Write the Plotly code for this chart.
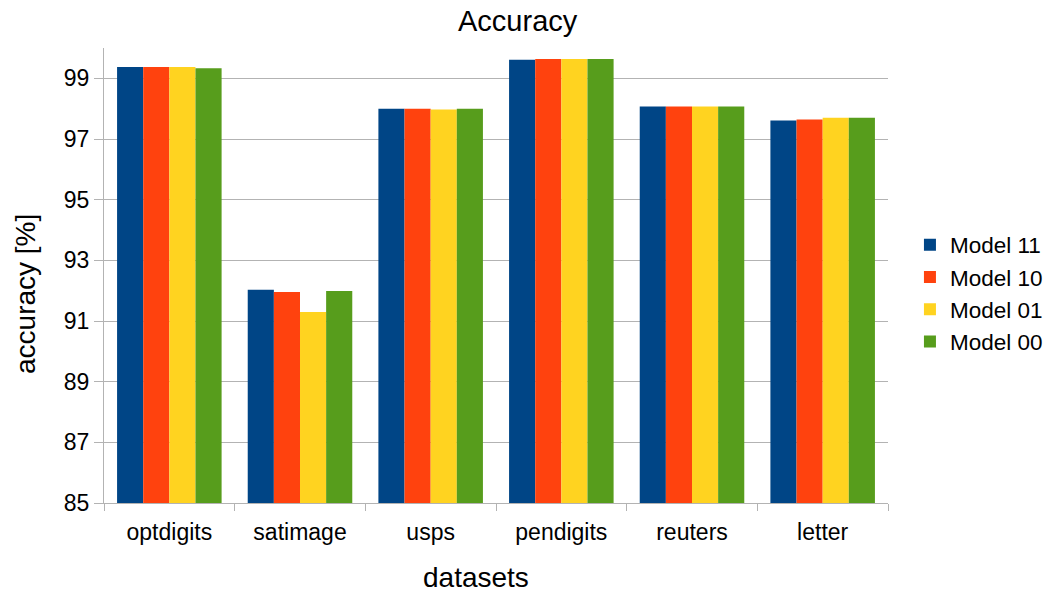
import plotly.graph_objects as go

datasets = ["optdigits", "satimage", "usps", "pendigits", "reuters", "letter"]
model_11 = [99.37, 92.03, 98.00, 99.61, 98.07, 97.61]
model_10 = [99.37, 91.96, 98.00, 99.64, 98.07, 97.64]
model_01 = [99.37, 91.30, 97.97, 99.64, 98.07, 97.70]
model_00 = [99.33, 91.99, 98.00, 99.64, 98.07, 97.70]

series = [
    ("Model 11", model_11, "#004586"),
    ("Model 10", model_10, "#ff420e"),
    ("Model 01", model_01, "#ffd320"),
    ("Model 00", model_00, "#579d1c"),
]

fig = go.Figure()
for name, vals, color in series:
    fig.add_trace(go.Bar(
        x=datasets, y=vals, name=name,
        marker=dict(color=color, line=dict(width=0)),
    ))

font_family = "Liberation Sans, Arial, sans-serif"
W, H = 1049, 594
L, R, T, B = 104, 161, 48, 91
pw, ph = W - L - R, H - T - B

fig.update_layout(
    width=W, height=H,
    barmode="group", bargap=0.2, bargroupgap=0,
    plot_bgcolor="white", paper_bgcolor="white",
    font=dict(family=font_family, color="black", size=22),
    margin=dict(l=L, r=R, t=T, b=B, autoexpand=False),
    showlegend=True,
    legend=dict(x=1.028, y=1 - (293 - T) / ph, yanchor="middle", xanchor="left",
                xref="paper", font=dict(size=22.5), itemwidth=30),
    xaxis=dict(
        tickson="boundaries", ticks="outside", ticklen=7, tickcolor="#b3b3b3",
        showline=True, linecolor="#b3b3b3", linewidth=1,
        tickfont=dict(size=23), showgrid=False, ticklabelstandoff=8,
    ),
    yaxis=dict(
        range=[85, 100], tick0=85, dtick=2,
        ticks="outside", ticklen=9, tickcolor="#b3b3b3",
        showline=True, linecolor="#b3b3b3", linewidth=1,
        gridcolor="#b3b3b3", gridwidth=1, zeroline=False,
        tickfont=dict(size=23),
    ),
    annotations=[
        dict(text="Accuracy", xref="paper", yref="paper",
             x=(517.5 - L) / pw, y=1 + (T - 21) / ph,
             xanchor="center", yanchor="middle", showarrow=False,
             font=dict(size=29)),
        dict(text="datasets", xref="paper", yref="paper",
             x=(475.5 - L) / pw, y=-(577 - T - ph) / ph,
             xanchor="center", yanchor="middle", showarrow=False,
             font=dict(size=28)),
        dict(text="accuracy [%]", xref="paper", yref="paper",
             x=-(L - 25) / pw, y=1 - (294 - T) / ph, textangle=-90,
             xanchor="center", yanchor="middle", showarrow=False,
             font=dict(size=28)),
    ],
)

fig.write_html("out.html")
